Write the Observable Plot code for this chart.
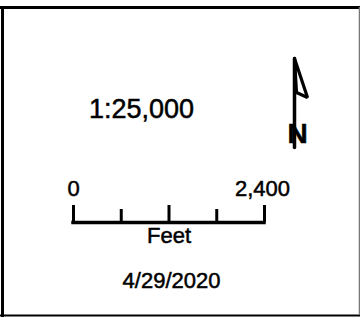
<!DOCTYPE html>
<html>
<head>
<meta charset="utf-8">
<script src="https://cdn.jsdelivr.net/npm/d3@7"></script>
<script src="https://cdn.jsdelivr.net/npm/@observablehq/plot@0.6"></script>
<style>
  html, body { margin: 0; padding: 0; background: #fff; }
  #wrap { position: relative; width: 360px; height: 317px; }
  #wrap svg { position: absolute; left: 0; top: 0; background: transparent !important; }
</style>
</head>
<body>
<div id="wrap"></div>
<script>
// ---- data ----
const scaleRatio = "1:25,000";
const barTicks = [0, 600, 1200, 1800, 2400];          // feet
const barTickKinds = ["major", "minor", "major", "minor", "major"];
const barMax = 2400;
const barEndLabels = ["0", "2,400"];
const barUnit = "Feet";
const mapDate = "4/29/2020";
const northLabel = "N";

// ---- layout (pixels) ----
const W = 360, H = 317;
const font = "'Liberation Sans', Arial, Helvetica, sans-serif";
const ink = {fill: "#000", stroke: "#000", strokeWidth: 0.5};
const L = {
  borderTop: 7, borderLeft: 2, borderRight: 359, borderBottom: 315,
  ratioX: 141, ratioY: 117,
  barLeft: 73, barRight: 264, barY: 222, majorTop: 205, minorTop: 209,
  labelY: 195, unitY: 242, dateX: 171, dateY: 287,
  arrow: [[294, 58], [307, 97], [296, 92], [294, 58]],
  shaft: [[294, 58], [294, 147]],
  nX: 297, nY: 142
};

const wrap = document.getElementById("wrap");

// Layer A: frame, ratio, date, north arrow (pixel identity scales)
const layerA = Plot.plot({
  width: W, height: H, margin: 0,
  x: {type: "identity", axis: null},
  y: {type: "identity", axis: null},
  style: {fontFamily: font, background: "transparent"},
  marks: [
    Plot.ruleY([L.borderTop], {stroke: "#000", strokeWidth: 3}),
    Plot.ruleY([L.borderBottom], {stroke: "#000", strokeWidth: 2}),
    Plot.ruleX([L.borderLeft], {y1: L.borderTop, y2: H, stroke: "#000", strokeWidth: 3}),
    Plot.ruleX([L.borderRight], {y1: L.borderTop, y2: L.borderBottom, stroke: "#777", strokeWidth: 1.5}),
    Plot.text([scaleRatio], {x: () => L.ratioX, y: () => L.ratioY, text: d => d, textAnchor: "middle", lineAnchor: "bottom", fontSize: 27, ...ink}),
    Plot.text([mapDate], {x: () => L.dateX, y: () => L.dateY, text: d => d, textAnchor: "middle", lineAnchor: "bottom", fontSize: 22, ...ink}),
    Plot.line(L.arrow, {x: d => d[0], y: d => d[1], stroke: "#000", strokeWidth: 3.2, strokeLinejoin: "miter", curve: "linear"}),
    Plot.line(L.shaft, {x: d => d[0], y: d => d[1], stroke: "#000", strokeWidth: 3.5}),
    Plot.text([northLabel], {x: () => L.nX, y: () => L.nY, text: d => d, textAnchor: "middle", lineAnchor: "bottom", fontSize: 28, fontWeight: "bold", fontFamily: "'Liberation Sans Narrow', 'Liberation Sans', Arial, sans-serif", ...ink})
  ]
});

// Layer B: scale bar in feet
const ticksData = barTicks.map((v, i) => ({v, kind: barTickKinds[i]}));
const layerB = Plot.plot({
  width: W, height: H, margin: 0,
  x: {type: "linear", domain: [0, barMax], range: [L.barLeft, L.barRight], axis: null},
  y: {type: "identity", axis: null},
  style: {fontFamily: font, background: "transparent"},
  marks: [
    Plot.ruleY([L.barY], {x1: 0, x2: barMax, stroke: "#000", strokeWidth: 3.5, strokeLinecap: "square"}),
    Plot.ruleX(ticksData, {x: "v", y1: d => d.kind === "major" ? L.majorTop : L.minorTop, y2: L.barY, stroke: "#000", strokeWidth: 3}),
    Plot.text([barEndLabels[0]], {x: () => 0, y: () => L.labelY, text: d => d, textAnchor: "start", dx: -6, lineAnchor: "bottom", fontSize: 22, ...ink}),
    Plot.text([barEndLabels[1]], {x: () => barMax, y: () => L.labelY, text: d => d, textAnchor: "middle", dx: -2, lineAnchor: "bottom", fontSize: 22, ...ink}),
    Plot.text([barUnit], {x: () => barMax / 2, y: () => L.unitY, text: d => d, textAnchor: "middle", lineAnchor: "bottom", fontSize: 22, ...ink})
  ]
});

wrap.appendChild(layerA);
wrap.appendChild(layerB);
</script>
</body>
</html>
